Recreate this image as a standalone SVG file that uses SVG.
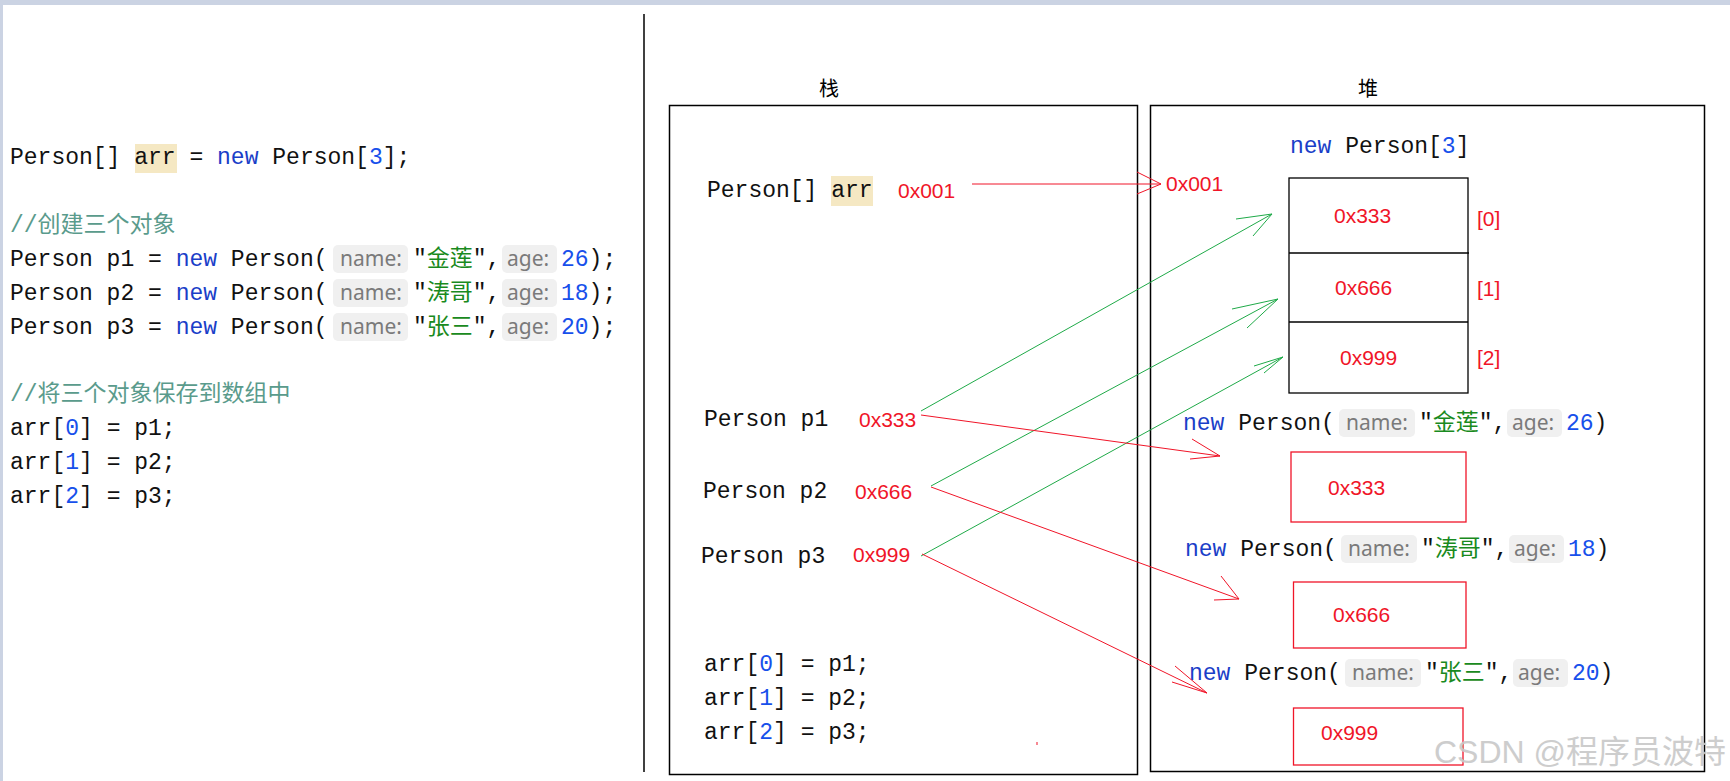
<svg xmlns="http://www.w3.org/2000/svg" width="1730" height="781" viewBox="0 0 1730 781">
<style>
.code{font-family:"Liberation Mono","Noto Sans CJK SC",monospace;font-size:23px;fill:#111}
.kw{fill:#1a3ec8}
.num{fill:#1750eb}
.str{fill:#198a20}
.cmt{fill:#5a9b8c}
.hbg{fill:#f0f0f0}
.hint{font-family:"Noto Sans","Liberation Sans",sans-serif;font-size:21px;fill:#7a7a7a}
.addr{font-family:"Liberation Sans","Noto Sans CJK SC",sans-serif;font-size:21px;fill:#f01528}
.hl{fill:#f5e8c3}
.lbl{font-family:"Noto Sans CJK SC",sans-serif;font-size:20px;fill:#000;text-anchor:middle}
.box{fill:none;stroke:#000;stroke-width:1.5}
.rbox{fill:none;stroke:#f01528;stroke-width:1.3}
.gl{fill:none;stroke:#1faa48;stroke-width:1}
.rl{fill:none;stroke:#f01528;stroke-width:1}
</style>
<rect x="0" y="0" width="1730" height="781" fill="#ffffff"/>
<rect x="0" y="0" width="1730" height="5" fill="#cbd3e3"/>
<rect x="0" y="0" width="3" height="781" fill="#cbd3e3"/>
<line x1="644" y1="14" x2="644" y2="772" stroke="#000" stroke-width="1.5"/>

<g id="code">
<rect class="hl" x="135" y="144" width="42" height="29"/>
<text class="code" x="10" y="164" xml:space="preserve">Person[] arr = <tspan class="kw">new</tspan> Person[<tspan class="num">3</tspan>];</text>
<text class="code cmt" x="10" y="232">//创建三个对象</text>
<text class="code" x="10" y="266" xml:space="preserve">Person p1 = <tspan class="kw">new</tspan> Person(</text>
<rect class="hbg" x="333" y="245" width="75" height="28" rx="5"/>
<text class="hint" x="340" y="266">name:</text>
<text class="code" x="413" y="266">"<tspan class="str">金莲</tspan>",</text>
<rect class="hbg" x="502" y="245" width="55" height="28" rx="5"/>
<text class="hint" x="507" y="266">age:</text>
<text class="code" x="561" y="266"><tspan class="num">26</tspan>);</text>
<text class="code" x="10" y="300" xml:space="preserve">Person p2 = <tspan class="kw">new</tspan> Person(</text>
<rect class="hbg" x="333" y="279" width="75" height="28" rx="5"/>
<text class="hint" x="340" y="300">name:</text>
<text class="code" x="413" y="300">"<tspan class="str">涛哥</tspan>",</text>
<rect class="hbg" x="502" y="279" width="55" height="28" rx="5"/>
<text class="hint" x="507" y="300">age:</text>
<text class="code" x="561" y="300"><tspan class="num">18</tspan>);</text>
<text class="code" x="10" y="334" xml:space="preserve">Person p3 = <tspan class="kw">new</tspan> Person(</text>
<rect class="hbg" x="333" y="313" width="75" height="28" rx="5"/>
<text class="hint" x="340" y="334">name:</text>
<text class="code" x="413" y="334">"<tspan class="str">张三</tspan>",</text>
<rect class="hbg" x="502" y="313" width="55" height="28" rx="5"/>
<text class="hint" x="507" y="334">age:</text>
<text class="code" x="561" y="334"><tspan class="num">20</tspan>);</text>
<text class="code cmt" x="10" y="401">//将三个对象保存到数组中</text>
<text class="code" x="10" y="435" xml:space="preserve">arr[<tspan class="num">0</tspan>] = p1;</text>
<text class="code" x="10" y="469" xml:space="preserve">arr[<tspan class="num">1</tspan>] = p2;</text>
<text class="code" x="10" y="503" xml:space="preserve">arr[<tspan class="num">2</tspan>] = p3;</text>
</g>

<g id="stack">
<text class="lbl" x="829" y="96">栈</text>
<rect class="box" x="669.5" y="105.5" width="468" height="669"/>
<rect class="hl" x="831" y="176" width="42" height="30"/>
<text class="code" x="707" y="197" xml:space="preserve">Person[] arr</text>
<text class="addr" x="898" y="198">0x001</text>
<text class="code" x="704" y="426" xml:space="preserve">Person p1</text>
<text class="addr" x="859" y="427">0x333</text>
<text class="code" x="703" y="498" xml:space="preserve">Person p2</text>
<text class="addr" x="855" y="499">0x666</text>
<text class="code" x="701" y="563" xml:space="preserve">Person p3</text>
<text class="addr" x="853" y="562">0x999</text>
<text class="code" x="704" y="671" xml:space="preserve">arr[<tspan class="num">0</tspan>] = p1;</text>
<text class="code" x="704" y="705" xml:space="preserve">arr[<tspan class="num">1</tspan>] = p2;</text>
<text class="code" x="704" y="739" xml:space="preserve">arr[<tspan class="num">2</tspan>] = p3;</text>
<rect x="1036.5" y="742" width="1" height="3" fill="#f01528"/>
</g>

<g id="heap">
<text class="lbl" x="1368" y="96">堆</text>
<rect class="box" x="1150.5" y="105.5" width="554" height="666"/>
<text class="addr" x="1166" y="191">0x001</text>
</g>

<g id="array">
<text class="code" x="1290" y="153" xml:space="preserve"><tspan class="kw">new</tspan> Person[<tspan class="num">3</tspan>]</text>
<rect x="1289" y="178" width="179" height="215" fill="none" stroke="#000" stroke-width="1.3"/>
<line x1="1289" y1="253" x2="1469" y2="253" stroke="#000" stroke-width="1.3"/>
<line x1="1289" y1="322" x2="1468" y2="322" stroke="#000" stroke-width="1.3"/>
<text class="addr" x="1334" y="223">0x333</text>
<text class="addr" x="1335" y="295">0x666</text>
<text class="addr" x="1340" y="365">0x999</text>
<text class="addr" x="1477" y="226">[0]</text>
<text class="addr" x="1477" y="296">[1]</text>
<text class="addr" x="1477" y="365">[2]</text>
</g>

<g id="obj1">
<text class="code" x="1183" y="430" xml:space="preserve"><tspan class="kw">new</tspan> Person(</text>
<rect class="hbg" x="1339" y="409" width="76" height="28" rx="5"/>
<text class="hint" x="1346" y="430">name:</text>
<text class="code" x="1419" y="430">"<tspan class="str">金莲</tspan>",</text>
<rect class="hbg" x="1507" y="409" width="55" height="28" rx="5"/>
<text class="hint" x="1512" y="430">age:</text>
<text class="code" x="1566" y="430"><tspan class="num">26</tspan>)</text>
<rect class="rbox" x="1291" y="452" width="175" height="70"/>
<text class="addr" x="1328" y="495">0x333</text>
</g>

<g id="obj2">
<text class="code" x="1185" y="556" xml:space="preserve"><tspan class="kw">new</tspan> Person(</text>
<rect class="hbg" x="1341" y="535" width="76" height="28" rx="5"/>
<text class="hint" x="1348" y="556">name:</text>
<text class="code" x="1421" y="556">"<tspan class="str">涛哥</tspan>",</text>
<rect class="hbg" x="1509" y="535" width="55" height="28" rx="5"/>
<text class="hint" x="1514" y="556">age:</text>
<text class="code" x="1568" y="556"><tspan class="num">18</tspan>)</text>
<rect class="rbox" x="1293.5" y="582" width="172.5" height="66"/>
<text class="addr" x="1333" y="622">0x666</text>
</g>

<g id="obj3">
<text class="code" x="1189" y="680" xml:space="preserve"><tspan class="kw">new</tspan> Person(</text>
<rect class="hbg" x="1345" y="659" width="76" height="28" rx="5"/>
<text class="hint" x="1352" y="680">name:</text>
<text class="code" x="1425" y="680">"<tspan class="str">张三</tspan>",</text>
<rect class="hbg" x="1513" y="659" width="55" height="28" rx="5"/>
<text class="hint" x="1518" y="680">age:</text>
<text class="code" x="1572" y="680"><tspan class="num">20</tspan>)</text>
<rect class="rbox" x="1293.5" y="708" width="169.5" height="57"/>
<text class="addr" x="1321" y="740">0x999</text>
</g>

<g id="connectors">
<line class="rl" x1="972" y1="184" x2="1161" y2="184"/>
<polyline class="rl" points="1137,172 1161,184 1137,194"/>
<line class="gl" x1="921" y1="411" x2="1272" y2="214"/>
<polyline class="gl" points="1236,219 1272,214 1253,236"/>
<line class="gl" x1="931" y1="486" x2="1278" y2="299"/>
<polyline class="gl" points="1232,309 1278,299 1247,328"/>
<line class="gl" x1="921" y1="556" x2="1283" y2="357"/>
<polyline class="gl" points="1254,366 1283,357 1264,373"/>
<line class="rl" x1="921" y1="415" x2="1220" y2="456"/>
<polyline class="rl" points="1192,439 1220,456 1190,459"/>
<line class="rl" x1="931" y1="487" x2="1239" y2="599"/>
<polyline class="rl" points="1221,576 1239,599 1214,600"/>
<line class="rl" x1="922" y1="554" x2="1207" y2="693"/>
<polyline class="rl" points="1175,666 1207,693 1172,682"/>
</g>

<text x="1434" y="763" font-family="Liberation Sans,Noto Sans CJK SC,sans-serif" font-size="32" fill="#c8c8c8" opacity="0.9">CSDN @程序员波特</text>
</svg>
